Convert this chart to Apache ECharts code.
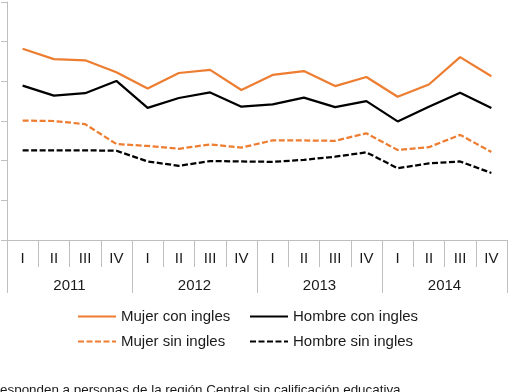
<!DOCTYPE html>
<html>
<head>
<meta charset="utf-8">
<script src="https://cdn.jsdelivr.net/npm/echarts@6/dist/echarts.min.js"></script>
<style>
  html, body { margin: 0; padding: 0; background: #fff; }
  #main { width: 514px; height: 392px; }
</style>
</head>
<body>
<div id="main"></div>
<script>
// trimestres y años
var quarters = ["I", "II", "III", "IV", "I", "II", "III", "IV", "I", "II", "III", "IV", "I", "II", "III", "IV"];
var years = ["2011", "2012", "2013", "2014"];

// series
var mujerCon = [48.2, 45.6, 45.3, 42.3, 38.2, 42.1, 42.9, 37.8, 41.6, 42.6, 38.8, 41.1, 36.1, 39.2, 46.1, 41.3];
var hombreCon = [38.9, 36.4, 37.0, 40.1, 33.3, 35.8, 37.2, 33.6, 34.2, 35.9, 33.5, 35.0, 29.9, 33.6, 37.1, 33.3];
var mujerSin = [30.1, 30.0, 29.2, 24.2, 23.7, 23.0, 24.1, 23.3, 25.1, 25.1, 25.0, 26.9, 22.7, 23.4, 26.5, 22.2];
var hombreSin = [22.6, 22.6, 22.6, 22.5, 19.8, 18.7, 19.9, 19.8, 19.7, 20.2, 21.0, 22.1, 18.1, 19.3, 19.8, 16.9];

var orange = "#ED7D31";
var black = "#000000";
var axisGrey = "#BFBFBF";
var textColor = "#1a1a1a";
var font = "Liberation Sans, Arial, sans-serif";

var chart = echarts.init(document.getElementById("main"));

function lineSeries(name, data, color, dashed) {
  return {
    name: name,
    type: "line",
    xAxisIndex: 0,
    data: data,
    symbol: "none",
    smooth: false,
    lineStyle: {
      color: color,
      width: 2.25,
      type: dashed ? [6, 2.5] : "solid"
    },
    itemStyle: { color: color }
  };
}

chart.setOption({
  animation: false,
  grid: {
    left: 7,
    right: 7,
    top: 2,
    bottom: 152,
    containLabel: false
  },
  xAxis: [
    {
      type: "category",
      data: quarters,
      position: "bottom",
      boundaryGap: true,
      axisLine: { show: true, lineStyle: { color: axisGrey, width: 1 } },
      axisTick: { show: true, length: 27, interval: 0, lineStyle: { color: axisGrey } },
      axisLabel: { interval: 0, margin: 11, color: textColor, fontSize: 15, fontFamily: font },
      splitLine: { show: false }
    },
    {
      type: "category",
      data: years,
      position: "bottom",
      boundaryGap: true,
      axisLine: { show: false },
      axisTick: { show: true, length: 53, interval: 0, lineStyle: { color: axisGrey } },
      axisLabel: { interval: 0, margin: 38, color: textColor, fontSize: 15, fontFamily: font },
      splitLine: { show: false }
    }
  ],
  yAxis: {
    type: "value",
    min: 0,
    max: 60,
    interval: 10,
    axisLine: { show: true, lineStyle: { color: axisGrey, width: 1 } },
    axisTick: { show: true, length: 6, lineStyle: { color: axisGrey } },
    axisLabel: { show: false },
    splitLine: { show: false }
  },
  legend: [
    {
      orient: "vertical",
      left: 77,
      top: 309,
      padding: 0,
      itemWidth: 38,
      itemHeight: 16,
      itemGap: 10,
      itemStyle: { opacity: 0 },
      textStyle: { color: textColor, fontSize: 15, fontFamily: font },
      data: ["Mujer con ingles", "Mujer sin ingles"]
    },
    {
      orient: "vertical",
      left: 249,
      top: 309,
      padding: 0,
      itemWidth: 38,
      itemHeight: 16,
      itemGap: 10,
      itemStyle: { opacity: 0 },
      textStyle: { color: textColor, fontSize: 15, fontFamily: font },
      data: ["Hombre con ingles", "Hombre sin ingles"]
    }
  ],
  graphic: [
    {
      type: "text",
      left: -26,
      top: 384,
      style: {
        text: "Corresponden a personas de la región Central sin calificación educativa",
        fill: textColor,
        font: "13.4px " + font
      }
    }
  ],
  series: [
    lineSeries("Mujer con ingles", mujerCon, orange, false),
    lineSeries("Hombre con ingles", hombreCon, black, false),
    lineSeries("Mujer sin ingles", mujerSin, orange, true),
    lineSeries("Hombre sin ingles", hombreSin, black, true)
  ]
});
</script>
</body>
</html>
